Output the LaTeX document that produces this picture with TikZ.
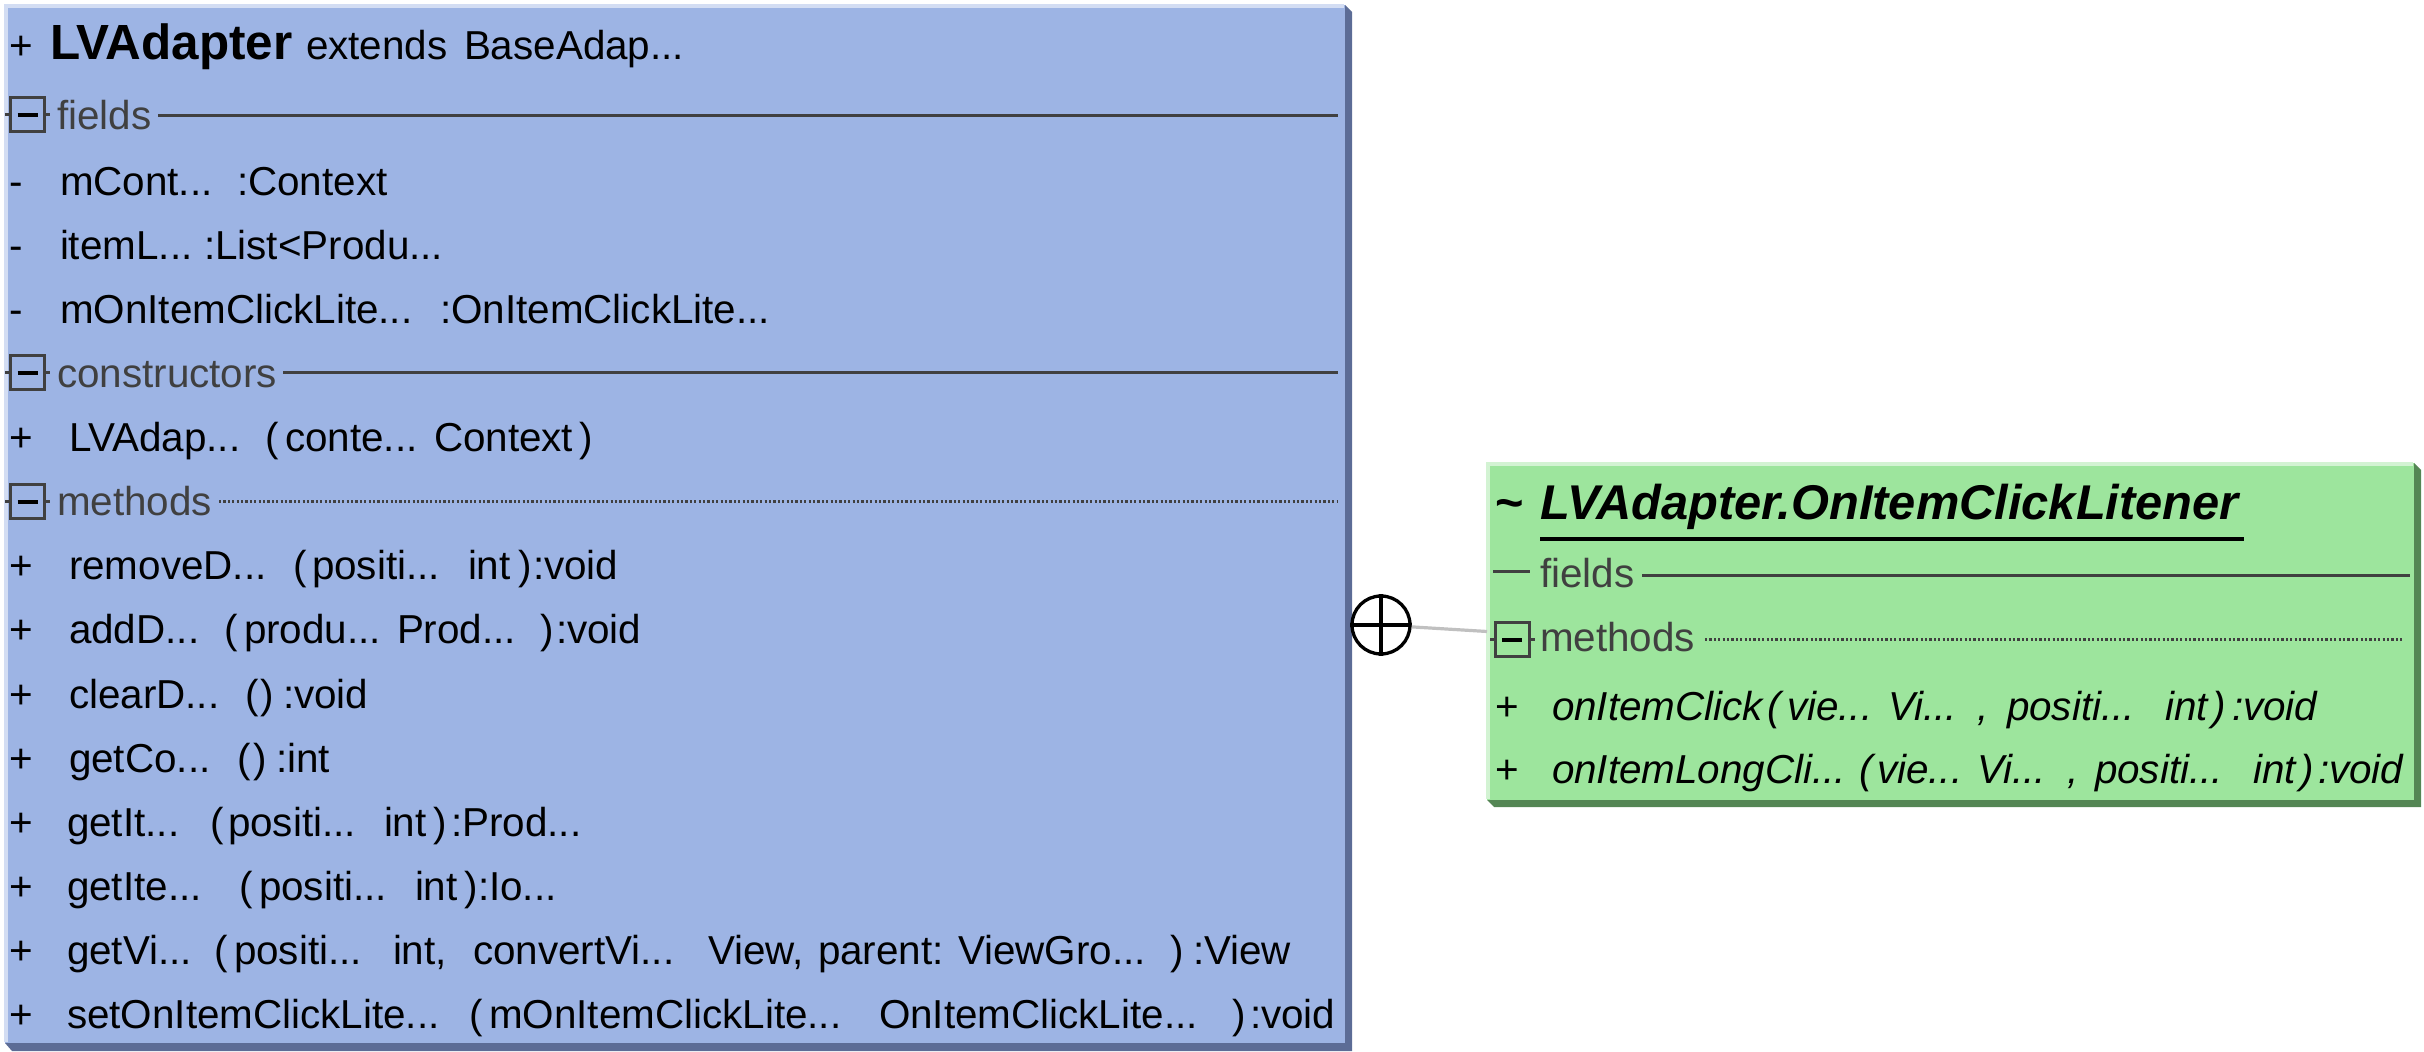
\documentclass[tikz,border=0pt]{standalone}
\usepackage{fontspec}
\setmainfont{Liberation Sans}
\definecolor{blueF}{RGB}{157,180,228}
\definecolor{blueS}{RGB}{92,108,150}
\definecolor{greenF}{RGB}{157,229,157}
\definecolor{greenS}{RGB}{84,134,84}
\definecolor{secgray}{RGB}{64,64,64}
\definecolor{nestgray}{RGB}{192,192,192}
\newcommand\bodyf{\fontsize{20.2}{24}\selectfont}
\newcommand\T[4][txt]{\node[#1] (#2) at (#3) {#4};}
\begin{document}
\begin{tikzpicture}[x=0.5pt,y=-0.5pt,
  txt/.style={anchor=base west,inner sep=0pt,outer sep=0pt,font=\bodyf,text=black},
  itx/.style={txt,font=\bodyf\itshape},
  sec/.style={txt,text=secgray},
  sepline/.style={draw=secgray,line width=1.5pt},
  dotline/.style={draw=secgray,line width=1.5pt,dash pattern=on 1.1pt off 1.1pt},
  icon/.style={rectangle,draw=secgray,line width=1.5pt,minimum size=17pt,inner sep=0pt,
    path picture={\draw[black,line width=2.2pt]
      ([xshift=-5pt]path picture bounding box.center) -- ([xshift=5pt]path picture bounding box.center);}},
  boxnode/.style={rectangle,anchor=north west,inner sep=0pt,outer sep=0pt}
]
\useasboundingbox (0,0) rectangle (2424,1052);

% ---------- outer class box ----------
\fill[blueS] (1345,5) -- (1352,12) -- (1352,1051) -- (12,1051) -- (5,1043) -- (1345,1043) -- cycle;
\node[boxnode,fill=blueF,minimum width=670pt,minimum height=519pt] (outer) at (5,5) {};
\draw[blueF!45!white,line width=2pt] (6,1042) -- (6,6) -- (1344,6);

% title
\T{o0}{10,60}{+}
\T[txt,font=\fontsize{24.7}{29}\selectfont\bfseries]{o1}{50,60}{LVAdapter}
\T{o2}{306,60}{extends}
\T{o3}{464,60}{BaseAdap...}

% fields
\node[icon] (if1) at (27.5,115) {};
\draw[sepline] (if1.west) -- ++(-4,0) (if1.east) -- ++(4,0);
\T[sec]{sf1}{57,130}{fields}
\draw[sepline] (158,116) -- (1338,116);
\T{f1a}{10,196}{-}\T{f1b}{60,196}{mCont...}\T{f1c}{237,196}{:Context}
\T{f2a}{10,260}{-}\T{f2b}{60,260}{itemL...}\T{f2c}{204,260}{:List<Produ...}
\T{f3a}{10,324}{-}\T{f3b}{60,324}{mOnItemClickLite...}\T{f3c}{440,324}{:OnItemClickLite...}

% constructors
\node[icon] (ic1) at (27.5,373) {};
\draw[sepline] (ic1.west) -- ++(-4,0) (ic1.east) -- ++(4,0);
\T[sec]{sc1}{57,388}{constructors}
\draw[sepline] (283,373) -- (1338,373);
\T{c1a}{10,452}{+}\T{c1b}{69,452}{LVAdap...}\T{c1c}{265,452}{(}\T{c1d}{285,452}{conte...}\T{c1e}{434,452}{Context}\T{c1f}{579,452}{)}

% methods
\node[icon] (im1) at (27.5,502) {};
\draw[sepline] (im1.west) -- ++(-4,0) (im1.east) -- ++(4,0);
\T[sec]{sm1}{57,516}{methods}
\draw[dotline] (219,502) -- (1338,502);

\T{m1a}{10,580}{+}\T{m1b}{69,580}{removeD...}\T{m1c}{293,580}{(}\T{m1d}{312,580}{positi...}\T{m1e}{468,580}{int}\T{m1f}{518,580}{)}\T{m1g}{533,580}{:void}
\T{m2a}{10,644}{+}\T{m2b}{69,644}{addD...}\T{m2c}{224,644}{(}\T{m2d}{244,644}{produ...}\T{m2e}{397,644}{Prod...}\T{m2f}{540,644}{)}\T{m2g}{556,644}{:void}
\T{m3a}{10,708}{+}\T{m3b}{69,708}{clearD...}\T{m3c}{245,708}{(}\T{m3d}{260,708}{)}\T{m3e}{283,708}{:void}
\T{m4a}{10,772}{+}\T{m4b}{69,772}{getCo...}\T{m4c}{237,772}{(}\T{m4d}{253,772}{)}\T{m4e}{276,772}{:int}
\T{m5a}{10,836}{+}\T{m5b}{67,836}{getIt...}\T{m5c}{210,836}{(}\T{m5d}{228,836}{positi...}\T{m5e}{384,836}{int}\T{m5f}{433,836}{)}\T{m5g}{451,836}{:Prod...}
\T{m6a}{10,900}{+}\T{m6b}{67,900}{getIte...}\T{m6c}{239,900}{(}\T{m6d}{259,900}{positi...}\T{m6e}{415,900}{int}\T{m6f}{464,900}{)}\T{m6g}{478,900}{:Io...}
\T{m7a}{10,964}{+}\T{m7b}{67,964}{getVi...}\T{m7c}{214,964}{(}\T{m7d}{234,964}{positi...}\T{m7e}{393,964}{int,}\T{m7f}{473,964}{convertVi...}\T{m7g}{708,964}{View,}\T{m7h}{818,964}{parent:}\T{m7i}{958,964}{ViewGro...}\T{m7j}{1170,964}{)}\T{m7k}{1193,964}{:View}
\T{m8a}{10,1028}{+}\T{m8b}{67,1028}{setOnItemClickLite...}\T{m8c}{469,1028}{(}\T{m8d}{489,1028}{mOnItemClickLite...}\T{m8e}{879,1028}{OnItemClickLite...}\T{m8f}{1232,1028}{)}\T{m8g}{1250,1028}{:void}

% ---------- inner interface box ----------
\fill[greenS] (2414,463) -- (2421,470) -- (2421,807) -- (1494,807) -- (1487,800) -- (2414,800) -- cycle;
\node[boxnode,fill=greenF,minimum width=463.5pt,minimum height=168.5pt] (inner) at (1487,463) {};
\draw[greenF!45!white,line width=2pt] (1488,799) -- (1488,464) -- (2413,464);

\T[txt,font=\fontsize{24.4}{28}\selectfont\bfseries]{g0}{1495,520}{\textasciitilde}
\T[txt,font=\fontsize{24.4}{28}\selectfont\bfseries\itshape]{g1}{1540,520}{LVAdapter.OnItemClickLitener}
\draw[black,line width=2pt] (1540,539) -- (2244,539);

\draw[sepline] (1493,572) -- (1530,572);
\T[sec]{gf}{1540,588}{fields}
\draw[sepline] (1642,576) -- (2410,576);

\node[icon] (gim) at (1512,640) {};
\draw[sepline] (gim.west) -- ++(-4,0) (gim.east) -- ++(4,0);
\T[sec]{gm}{1540,652}{methods}
\draw[dotline] (1705,640) -- (2404,640);

\T{g1a}{1495,720}{+}\T[itx]{g1b}{1552,720}{onItemClick}\T[itx]{g1c}{1767,720}{(}\T[itx]{g1d}{1787,720}{vie...}\T[itx]{g1e}{1888,720}{Vi...}\T[itx]{g1f}{1977,720}{,}\T[itx]{g1g}{2007,720}{positi...}\T[itx]{g1h}{2165,720}{int}\T[itx]{g1i}{2212,720}{)}\T[itx]{g1j}{2232,720}{:void}
\T{g2a}{1495,783}{+}\T[itx]{g2b}{1552,783}{onItemLongCli...}\T[itx]{g2c}{1859,783}{(}\T[itx]{g2d}{1877,783}{vie...}\T[itx]{g2e}{1977,783}{Vi...}\T[itx]{g2f}{2067,783}{,}\T[itx]{g2g}{2095,783}{positi...}\T[itx]{g2h}{2253,783}{int}\T[itx]{g2i}{2300,783}{)}\T[itx]{g2j}{2318,783}{:void}

% ---------- nesting connector ----------
\node[circle,draw=black,line width=1.65pt,minimum size=29pt,inner sep=0pt] (nest) at (1381,625) {};
\draw[black,line width=1.65pt] (nest.north) -- (nest.south) (nest.west) -- (nest.east);
\draw[nestgray,line width=1.6pt] (nest) -- (inner.west);
\end{tikzpicture}
\end{document}
